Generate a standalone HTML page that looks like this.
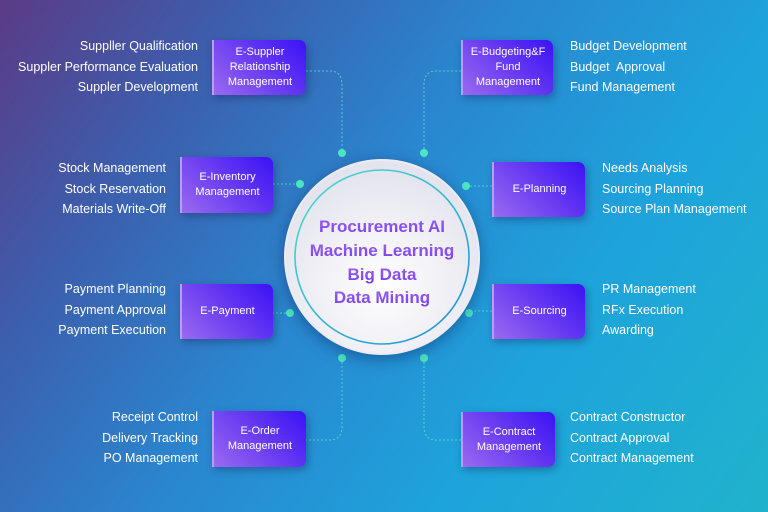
<!DOCTYPE html>
<html><head><style>
body{margin:0;width:768px;height:512px;overflow:hidden;font-family:"Liberation Sans",sans-serif}
#bg{position:absolute;left:0;top:0;width:768px;height:512px;background:linear-gradient(125deg,#5b3b86 0%,#3c5fae 22%,#2a86cf 45%,#1ea3dc 70%,#20b3cc 100%)}
.box{position:absolute;color:#fff;font-size:11px;line-height:15px;display:flex;align-items:center;justify-content:center;text-align:center;background:linear-gradient(45deg,#9a6af0 0%,#6a3cf2 50%,#3a12f6 100%);border-radius:0 7px 7px 0;border-left:2px solid #b89cf8;box-shadow:2px 3px 8px rgba(20,20,80,.35)}
.t{position:absolute;color:#fff;font-size:12.5px;line-height:20.5px;white-space:nowrap}
.l{text-align:right}
</style></head><body>
<div id="bg"></div>
<svg width="768" height="512" style="position:absolute;left:0;top:0">
<g fill="none" stroke="#5fe0c8" stroke-width="1" stroke-dasharray="2,2" opacity=".8">
<path d="M306 71 H330 Q342 71 342 85 V153"/>
<path d="M461 71 H436 Q424 71 424 85 V153"/>
<path d="M273 184 H300"/>
<path d="M492 186 H466"/>
<path d="M272 313 H290"/>
<path d="M492 311 H469"/>
<path d="M305 440 H330 Q342 440 342 426 V358"/>
<path d="M461 440 H436 Q424 440 424 426 V358"/>
</g>
<g fill="#4be8c0">
<circle cx="342" cy="153" r="4"/><circle cx="424" cy="153" r="4"/>
<circle cx="300" cy="184" r="4"/><circle cx="466" cy="186" r="4"/>
<circle cx="290" cy="313" r="4"/><circle cx="469" cy="313" r="4"/>
<circle cx="342" cy="358" r="4"/><circle cx="424" cy="358" r="4"/>
</g>
<defs>
<radialGradient id="cg" cx="50%" cy="65%" r="60%"><stop offset="0" stop-color="#ffffff"/><stop offset="1" stop-color="#e4e4ee"/></radialGradient>
<linearGradient id="rg" x1="0" y1="0" x2="1" y2="1"><stop offset="0" stop-color="#4fe0c8"/><stop offset="1" stop-color="#1c8fd8"/></linearGradient>
<linearGradient id="tg" x1="0" y1="0" x2="0" y2="1"><stop offset="0" stop-color="#9a62f0"/><stop offset="1" stop-color="#7a3ef0"/></linearGradient>
</defs>
<circle cx="382" cy="257" r="98" fill="#ececf4" style="filter:drop-shadow(0 4px 8px rgba(0,0,60,.35))"/>
<circle cx="382" cy="257" r="96" fill="url(#cg)"/>
<circle cx="382" cy="257" r="87" fill="none" stroke="url(#rg)" stroke-width="1.6"/>
<g font-family="Liberation Sans,sans-serif" font-weight="bold" font-size="17" fill="url(#tg)" text-anchor="middle">
<text x="382" y="232">Procurement AI</text>
<text x="382" y="256">Machine Learning</text>
<text x="382" y="280">Big Data</text>
<text x="382" y="303">Data Mining</text>
</g>
</svg>
<div class="box" style="left:212px;top:40px;width:92px;height:55px">E-Suppler<br>Relationship<br>Management</div>
<div class="box" style="left:461px;top:40px;width:90px;height:55px">E-Budgeting&amp;F<br>Fund<br>Management</div>
<div class="box" style="left:180px;top:157px;width:91px;height:56px">E-Inventory<br>Management</div>
<div class="box" style="left:492px;top:162px;width:91px;height:55px">E-Planning</div>
<div class="box" style="left:180px;top:284px;width:91px;height:55px">E-Payment</div>
<div class="box" style="left:492px;top:284px;width:91px;height:55px">E-Sourcing</div>
<div class="box" style="left:212px;top:411px;width:92px;height:56px">E-Order<br>Management</div>
<div class="box" style="left:461px;top:412px;width:92px;height:55px">E-Contract<br>Management</div>

<div class="t l" style="right:570px;top:36px">Suppller Qualification<br>Suppler Performance Evaluation<br>Suppler Development</div>
<div class="t" style="left:570px;top:36px">Budget Development<br>Budget&nbsp; Approval<br>Fund Management</div>
<div class="t l" style="right:602px;top:158px">Stock Management<br>Stock Reservation<br>Materials Write-Off</div>
<div class="t" style="left:602px;top:158px">Needs Analysis<br>Sourcing Planning<br>Source Plan Management</div>
<div class="t l" style="right:602px;top:279px">Payment Planning<br>Payment Approval<br>Payment Execution</div>
<div class="t" style="left:602px;top:279px">PR Management<br>RFx Execution<br>Awarding</div>
<div class="t l" style="right:570px;top:407px">Receipt Control<br>Delivery Tracking<br>PO Management</div>
<div class="t" style="left:570px;top:407px">Contract Constructor<br>Contract Approval<br>Contract Management</div>
</body></html>
